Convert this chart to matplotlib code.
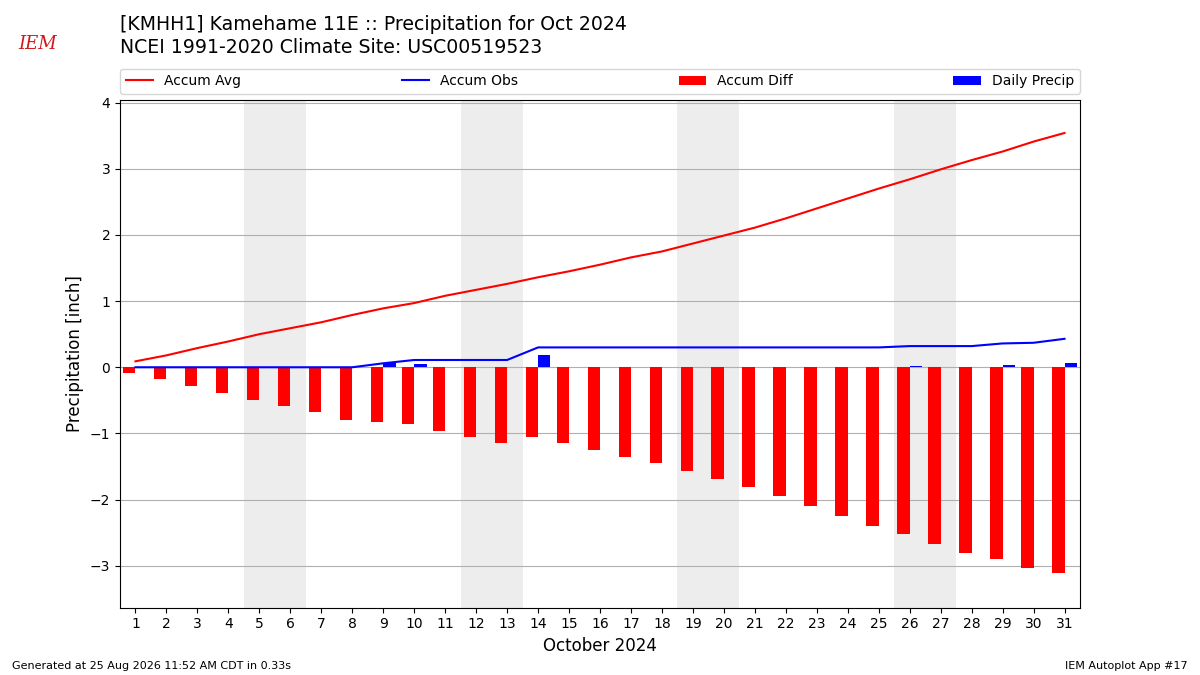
import numpy as np
import matplotlib.pyplot as plt

# Daily values (inches)
days = np.arange(1, 32)
accum_avg = [0.09, 0.18, 0.29, 0.39, 0.50, 0.59, 0.68, 0.79, 0.89, 0.97,
             1.08, 1.17, 1.26, 1.36, 1.45, 1.55, 1.66, 1.75, 1.87, 1.99,
             2.11, 2.25, 2.40, 2.55, 2.70, 2.84, 2.99, 3.13, 3.26, 3.41,
             3.54]
daily_precip = [0, 0, 0, 0, 0, 0, 0, 0, 0.06, 0.05,
                0, 0, 0, 0.19, 0, 0, 0, 0, 0, 0,
                0, 0, 0, 0, 0, 0.02, 0, 0, 0.04, 0.01,
                0.06]
weekends = [(5, 6), (12, 13), (19, 20), (26, 27)]

accum_obs = np.cumsum(daily_precip)
accum_diff = accum_obs - np.array(accum_avg)

fig = plt.figure(figsize=(12, 6.75), dpi=100)
ax = fig.add_axes([0.1, 0.1, 0.8, 0.752])

for d0, d1 in weekends:
    ax.axvspan(d0 - 0.5, d1 + 0.5, color='#ededed', zorder=0, lw=0)

ax.plot(days, accum_avg, color='r', lw=1.5, label='Accum Avg', zorder=3)
ax.plot(days, accum_obs, color='b', lw=1.5, label='Accum Obs', zorder=3)
ax.bar(days, accum_diff, width=-0.4, align='edge', color='r',
       label='Accum Diff', zorder=2)
ax.bar(days, daily_precip, width=0.4, align='edge', color='b',
       label='Daily Precip', zorder=2)

ax.set_xlim(0.5, 31.5)
ax.set_ylim(-3.63, 4.04)
ax.set_xticks(days)
ax.grid(axis='y', color='#b0b0b0', lw=0.8, zorder=1)
ax.set_axisbelow(True)
ax.set_xlabel('October 2024', fontsize=12)
ax.set_ylabel('Precipitation [inch]', fontsize=12)

ax.legend(bbox_to_anchor=(0, 1.012, 1, 0.05), loc='lower left', ncol=4,
          mode='expand', borderaxespad=0, fontsize=10)

fig.text(0.1, 0.963, '[KMHH1] Kamehame 11E :: Precipitation for Oct 2024',
         fontsize=13.6, va='center')
fig.text(0.1, 0.929, 'NCEI 1991-2020 Climate Site: USC00519523',
         fontsize=13.6, va='center')
fig.text(0.031, 0.935, 'IEM', color='#d01818', fontsize=13,
         family='DejaVu Serif', style='italic', ha='center', va='center')

fig.text(0.01, 0.009, 'Generated at 25 Aug 2026 11:52 AM CDT in 0.33s',
         fontsize=8)
fig.text(0.99, 0.009, 'IEM Autoplot App #17', fontsize=8, ha='right')

fig.savefig('out.png', dpi=100)
